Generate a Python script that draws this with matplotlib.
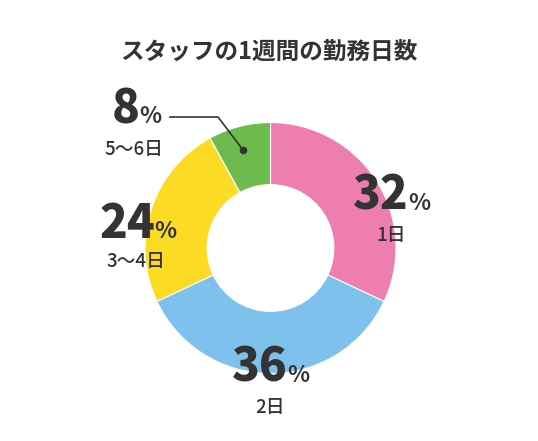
import matplotlib
matplotlib.use('Agg')
import matplotlib.pyplot as plt

plt.rcParams['font.family'] = ['Noto Sans CJK JP', 'DejaVu Sans']

# data
title = 'スタッフの1週間の勤務日数'
categories = ['1日', '2日', '3〜4日', '5〜6日']
shares = [32, 36, 24, 8]
colors = ['#EE7DB0', '#7DC1EC', '#FCDB24', '#6DBB4E']

W, H = 538, 441
text_col = '#333333'

# label layout in pixel coords (x of number's right edge, baseline y, sub label centre)
num_pos = [(409, 210), (288, 382), (155, 238), (140, 123)]
sub_pos = [(391, 236), (270, 407), (136, 262), (134, 150)]

fig = plt.figure(figsize=(W / 100, H / 100), dpi=100)
ax = fig.add_axes([0, 0, 1, 1])

cx, cy, r = 270.5, H - 248, 125.5
ax.pie(shares, colors=colors, startangle=90, counterclock=False,
       center=(cx, cy), radius=r,
       wedgeprops=dict(width=r * 0.495, edgecolor='white', linewidth=0.8))

ax.set_xlim(0, W)
ax.set_ylim(0, H)
ax.set_aspect('equal')
ax.axis('off')

ax.text(269, H - 52, title, ha='center', va='center', fontsize=17,
        fontweight='bold', color=text_col)

for val, cat, (nx, ny), (sx, sy) in zip(shares, categories, num_pos, sub_pos):
    ax.text(nx, H - ny, str(val), ha='right', va='baseline', fontsize=33,
            fontweight='black', color=text_col)
    ax.text(nx - 1, H - ny, '%', ha='left', va='baseline', fontsize=16.5,
            fontweight='bold', color=text_col)
    ax.text(sx, H - sy, cat, ha='center', va='center', fontsize=13.5,
            fontweight='medium', color=text_col)

# leader line for the small slice
ax.plot([170, 218, 243], [H - 117, H - 117, H - 150], color=text_col, lw=1.2)
ax.plot([243], [H - 150], 'o', color=text_col, ms=4.5)

fig.savefig('out.png', dpi=100)
